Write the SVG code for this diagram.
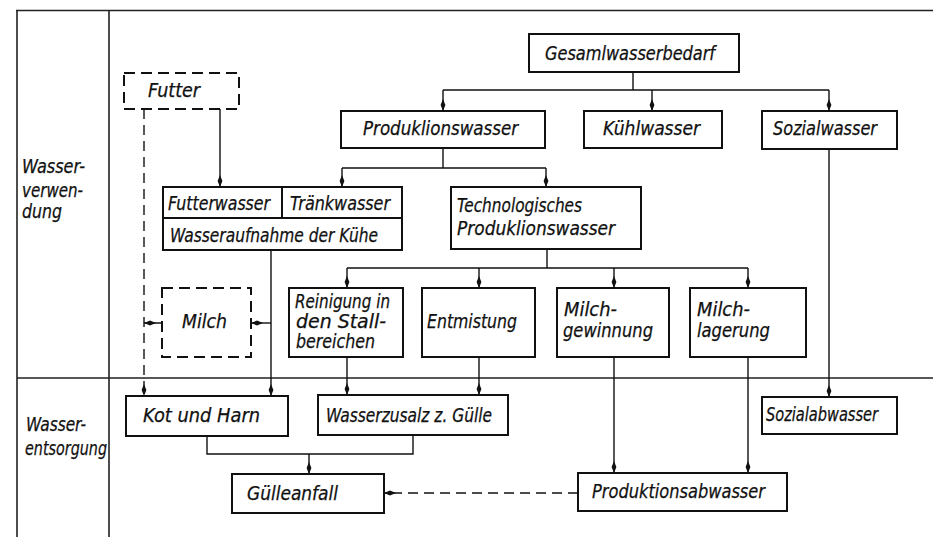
<svg xmlns="http://www.w3.org/2000/svg" width="933" height="537" viewBox="0 0 933 537">
<style>
text{font-family:"DejaVu Sans Condensed","DejaVu Sans","Liberation Sans",sans-serif;font-style:italic;font-size:19px;fill:#111;stroke:#111;stroke-width:0.25}
.box{fill:#fff;stroke:#111;stroke-width:2}
.dbox{fill:#fff;stroke:#111;stroke-width:2;stroke-dasharray:11,6}
.frame{fill:none;stroke:#222;stroke-width:1.6}
.c{fill:none;stroke:#111;stroke-width:1.4}
.d{fill:none;stroke:#111;stroke-width:1.4;stroke-dasharray:10,6}
.a{marker-end:url(#ah)}
</style>
<defs>
<marker id="ah" markerWidth="14" markerHeight="8" refX="12" refY="4" orient="auto" markerUnits="userSpaceOnUse">
<path d="M0,4 L6,1.6 L12,4 L6,6.4 Z" fill="#111"/>
</marker>
</defs>
<rect width="933" height="537" fill="#fff"/>
<g id="frame">
<path class="frame" d="M16,10.5 H933 M17,10 V537 M109,10 V537 M17,378 H933"/>
<text x="22" y="173" textLength="63" lengthAdjust="spacingAndGlyphs">Wasser-</text>
<text x="22" y="197" textLength="61" lengthAdjust="spacingAndGlyphs">verwen-</text>
<text x="22" y="218" textLength="40" lengthAdjust="spacingAndGlyphs">dung</text>
<text x="26" y="431" textLength="60" lengthAdjust="spacingAndGlyphs">Wasser-</text>
<text x="25" y="455" textLength="82" lengthAdjust="spacingAndGlyphs">entsorgung</text>
</g>
<g id="connectors">
<path class="c" d="M633,72 V90 M443,90 H829"/>
<path class="c a" d="M443,90 V111"/>
<path class="c a" d="M652,90 V111"/>
<path class="c a" d="M829,90 V111"/>
<path class="c" d="M443,148 V168 M342,168 H546"/>
<path class="c a" d="M342,168 V187"/>
<path class="c a" d="M546,168 V187"/>
<path class="c a" d="M220,109 V187"/>
<path class="d a" d="M144,109 V396"/>
<path class="c a" d="M271,250 V396"/>
<path class="c a" d="M271,323 H251"/>
<path class="d a" d="M162,323 H144"/>
<path class="c" d="M547,249 V268 M347,268 H748"/>
<path class="c a" d="M347,268 V288"/>
<path class="c a" d="M479,268 V288"/>
<path class="c a" d="M614,268 V288"/>
<path class="c a" d="M748,268 V288"/>
<path class="c a" d="M347,357 V395"/>
<path class="c a" d="M479,357 V395"/>
<path class="c a" d="M614,357 V473"/>
<path class="c a" d="M748,357 V473"/>
<path class="c a" d="M829,149 V397"/>
<path class="c" d="M207,436 V454 H413 V435"/>
<path class="c a" d="M309,454 V474"/>
<path class="d a" d="M578,493 H384"/>
</g>
<g id="futter">
<rect class="dbox" x="124" y="73" width="115" height="36"/>
<text x="148" y="97" textLength="52" lengthAdjust="spacingAndGlyphs">Futter</text>
</g>
<g id="gesamt">
<rect class="box" x="529" y="34" width="210" height="38"/>
<text x="545" y="60" textLength="170" lengthAdjust="spacingAndGlyphs">Gesamlwasserbedarf</text>
</g>
<g id="produktionswasser">
<rect class="box" x="341" y="111" width="204" height="37"/>
<text x="363" y="135" textLength="155" lengthAdjust="spacingAndGlyphs">Produklionswasser</text>
</g>
<g id="kuehlwasser">
<rect class="box" x="584" y="111" width="138" height="37"/>
<text x="603" y="135" textLength="97" lengthAdjust="spacingAndGlyphs">Kühlwasser</text>
</g>
<g id="sozialwasser">
<rect class="box" x="762" y="111" width="135" height="38"/>
<text x="773" y="135" textLength="104" lengthAdjust="spacingAndGlyphs">Sozialwasser</text>
</g>
<g id="wasseraufnahme">
<rect class="box" x="163" y="187" width="239" height="63"/>
<path class="c" style="stroke-width:2" d="M163,218 H402 M282,187 V218"/>
<text x="168" y="210" textLength="102" lengthAdjust="spacingAndGlyphs">Futterwasser</text>
<text x="290" y="210" textLength="100" lengthAdjust="spacingAndGlyphs">Tränkwasser</text>
<text x="170" y="242" textLength="208" lengthAdjust="spacingAndGlyphs">Wasseraufnahme der Kühe</text>
</g>
<g id="technologisch">
<rect class="box" x="451" y="187" width="190" height="62"/>
<text x="457" y="212" textLength="125" lengthAdjust="spacingAndGlyphs">Technologisches</text>
<text x="457" y="235" textLength="158" lengthAdjust="spacingAndGlyphs">Produklionswasser</text>
</g>
<g id="milch">
<rect class="dbox" x="162" y="288" width="89" height="69"/>
<text x="182" y="328" textLength="45" lengthAdjust="spacingAndGlyphs">Milch</text>
</g>
<g id="reinigung">
<rect class="box" x="289" y="288" width="114" height="69"/>
<text x="295" y="308" textLength="95" lengthAdjust="spacingAndGlyphs">Reinigung in</text>
<text x="296" y="328" textLength="90" lengthAdjust="spacingAndGlyphs">den Stall-</text>
<text x="296" y="348" textLength="79" lengthAdjust="spacingAndGlyphs">bereichen</text>
</g>
<g id="entmistung">
<rect class="box" x="422" y="288" width="113" height="69"/>
<text x="427" y="328" textLength="90" lengthAdjust="spacingAndGlyphs">Entmistung</text>
</g>
<g id="milchgewinnung">
<rect class="box" x="557" y="288" width="112" height="69"/>
<text x="564" y="316" textLength="53" lengthAdjust="spacingAndGlyphs">Milch-</text>
<text x="563" y="337" textLength="90" lengthAdjust="spacingAndGlyphs">gewinnung</text>
</g>
<g id="milchlagerung">
<rect class="box" x="690" y="288" width="116" height="69"/>
<text x="697" y="316" textLength="53" lengthAdjust="spacingAndGlyphs">Milch-</text>
<text x="697" y="337" textLength="73" lengthAdjust="spacingAndGlyphs">lagerung</text>
</g>
<g id="kotundharn">
<rect class="box" x="126" y="396" width="162" height="40"/>
<text x="143" y="422" textLength="117" lengthAdjust="spacingAndGlyphs">Kot und Harn</text>
</g>
<g id="wasserzusatz">
<rect class="box" x="318" y="395" width="190" height="40"/>
<text x="326" y="422" textLength="166" lengthAdjust="spacingAndGlyphs">Wasserzusalz z. Gülle</text>
</g>
<g id="sozialabwasser">
<rect class="box" x="762" y="397" width="135" height="37"/>
<text x="766" y="421" textLength="112" lengthAdjust="spacingAndGlyphs">Sozialabwasser</text>
</g>
<g id="guelleanfall">
<rect class="box" x="232" y="474" width="152" height="39"/>
<text x="247" y="500" textLength="91" lengthAdjust="spacingAndGlyphs">Gülleanfall</text>
</g>
<g id="produktionsabwasser">
<rect class="box" x="578" y="473" width="209" height="38"/>
<text x="592" y="498" textLength="173" lengthAdjust="spacingAndGlyphs">Produktionsabwasser</text>
</g>
</svg>
